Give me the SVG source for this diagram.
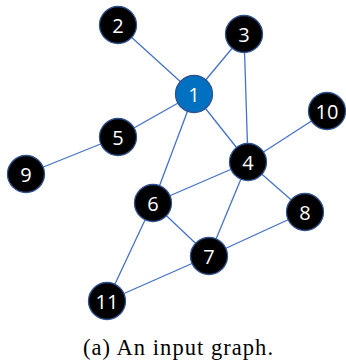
<svg xmlns="http://www.w3.org/2000/svg" width="346" height="362" viewBox="0 0 346 362">
<style>
.e{stroke:#4472C4;stroke-width:1.3;fill:none}
.n{fill:#000;stroke:#2F528F;stroke-width:1.3}
.b{fill:#0070C0;stroke:#2F528F;stroke-width:1.3}
.t{fill:#fff;font-family:"Open Sans","Noto Sans",sans-serif;font-size:20px;text-anchor:middle;dominant-baseline:central}
.c{fill:#000;font-family:"Liberation Serif","Times New Roman",serif;font-size:22.5px;text-anchor:middle}
</style>
<rect width="346" height="362" fill="#fff"/>
<g id="connectors">
<line class="e" x1="118" y1="25" x2="194" y2="94"/>
<line class="e" x1="194" y1="94" x2="244" y2="34"/>
<line class="e" x1="244" y1="34" x2="248" y2="162"/>
<line class="e" x1="194" y1="94" x2="118" y2="137"/>
<line class="e" x1="194" y1="94" x2="248" y2="162"/>
<line class="e" x1="194" y1="94" x2="153" y2="203"/>
<line class="e" x1="118" y1="137" x2="26" y2="174"/>
<line class="e" x1="248" y1="162" x2="327" y2="111"/>
<line class="e" x1="248" y1="162" x2="153" y2="203"/>
<line class="e" x1="248" y1="162" x2="305" y2="212"/>
<line class="e" x1="248" y1="162" x2="209" y2="256"/>
<line class="e" x1="153" y1="203" x2="209" y2="256"/>
<line class="e" x1="153" y1="203" x2="107" y2="301"/>
<line class="e" x1="209" y1="256" x2="305" y2="212"/>
<line class="e" x1="209" y1="256" x2="107" y2="301"/>
</g>
<g id="node1"><circle class="b" cx="194" cy="94" r="18.5"/><text class="t" x="194" y="94">1</text></g>
<g id="node2"><circle class="n" cx="118" cy="25" r="18.5"/><text class="t" x="118" y="25">2</text></g>
<g id="node3"><circle class="n" cx="244" cy="34" r="18.5"/><text class="t" x="244" y="34">3</text></g>
<g id="node4"><circle class="n" cx="248" cy="162" r="18.5"/><text class="t" x="248" y="162">4</text></g>
<g id="node5"><circle class="n" cx="118" cy="137" r="18.5"/><text class="t" x="118" y="137">5</text></g>
<g id="node6"><circle class="n" cx="153" cy="203" r="18.5"/><text class="t" x="153" y="203">6</text></g>
<g id="node7"><circle class="n" cx="209" cy="256" r="18.5"/><text class="t" x="209" y="256">7</text></g>
<g id="node8"><circle class="n" cx="305" cy="212" r="18.5"/><text class="t" x="305" y="212">8</text></g>
<g id="node9"><circle class="n" cx="26" cy="174" r="18.5"/><text class="t" x="26" y="174">9</text></g>
<g id="node10"><circle class="n" cx="327" cy="111" r="18.5"/><text class="t" x="327" y="111">10</text></g>
<g id="node11"><circle class="n" cx="107" cy="301" r="18.5"/><text class="t" x="107" y="301">11</text></g>
<text class="c" x="178" y="355" textLength="190" lengthAdjust="spacing">(a) An input graph.</text>
</svg>
